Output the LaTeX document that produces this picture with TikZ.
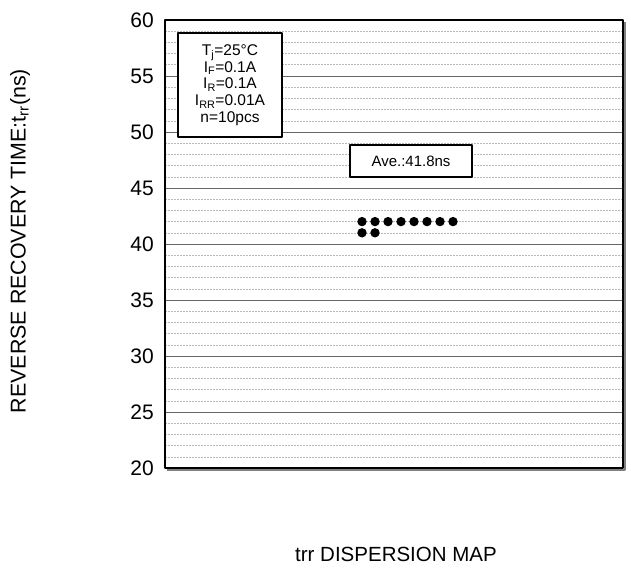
\documentclass[tikz,border=0pt]{standalone}
\usepackage{fontspec}
\setmainfont{Liberation Sans}
\begin{document}
\begin{tikzpicture}[x=1pt, y=-1pt, line join=round,
	major/.style={gray!80!black, line width=0.9pt},
	minor/.style={gray!55, line width=0.6pt, dash pattern=on 2pt off 1pt},
	tick/.style={anchor=east, inner sep=0pt, font=\fontsize{21}{24}\selectfont},
	infobox/.style={draw, line width=1.6pt, fill=white, inner sep=3pt, align=center, font=\fontsize{15.5}{16.7}\selectfont}]
	%% Khung
	\def\xmin{165}
	\def\xmax{623}
	\def\ytop{20}
	\def\ybot{468}
	\def\k{11.2}
	\useasboundingbox (0,0) rectangle (631,567);
	%% Luoi
	\foreach \v in {21,...,59}
		\draw[minor] (\xmin,{\ytop+(60-\v)*\k}) -- (\xmax,{\ytop+(60-\v)*\k});
	\foreach \v in {25,30,...,55}
		\draw[major] (\xmin,{\ytop+(60-\v)*\k}) -- (\xmax,{\ytop+(60-\v)*\k});
	\draw[gray, line width=1.2pt] (\xmax+2,\ytop+2) -- (\xmax+2,\ybot+2) -- (\xmin+2,\ybot+2);
	\draw[line width=1.4pt] (\xmin,\ytop) rectangle (\xmax,\ybot);
	%% Nhan truc
	\foreach \v in {20,25,...,60}
		\node[tick] (t\v) at (154,{\ytop+(60-\v)*\k}) {\v};
	\node[rotate=90, font=\fontsize{21.4}{24}\selectfont] (ylab) at (20,241) {REVERSE RECOVERY TIME:t\textsubscript{rr}(ns)};
	\node[anchor=base, inner sep=0pt, font=\fontsize{20.5}{24}\selectfont] (title) at (396,561) {trr DISPERSION MAP};
	%% Dieu kien do
	\node[infobox, minimum width=104pt, minimum height=104pt] (cond) at (230,85)
		{T\textsubscript{j}=25°C\\ I\textsubscript{F}=0.1A\\ I\textsubscript{R}=0.1A\\ I\textsubscript{RR}=0.01A\\ n=10pcs};
	\node[infobox, line width=1.3pt, minimum width=122pt, minimum height=32pt, font=\fontsize{15}{17}\selectfont] (ave) at (411,161) {Ave.:41.8ns};
	%% Cac diem do
	\foreach \i in {0,...,7}
		\fill (362+13*\i,{\ytop+18*\k}) circle (4.7pt);
	\foreach \i in {0,1}
		\fill (362+13*\i,{\ytop+19*\k}) circle (4.7pt);
\end{tikzpicture}
\end{document}
